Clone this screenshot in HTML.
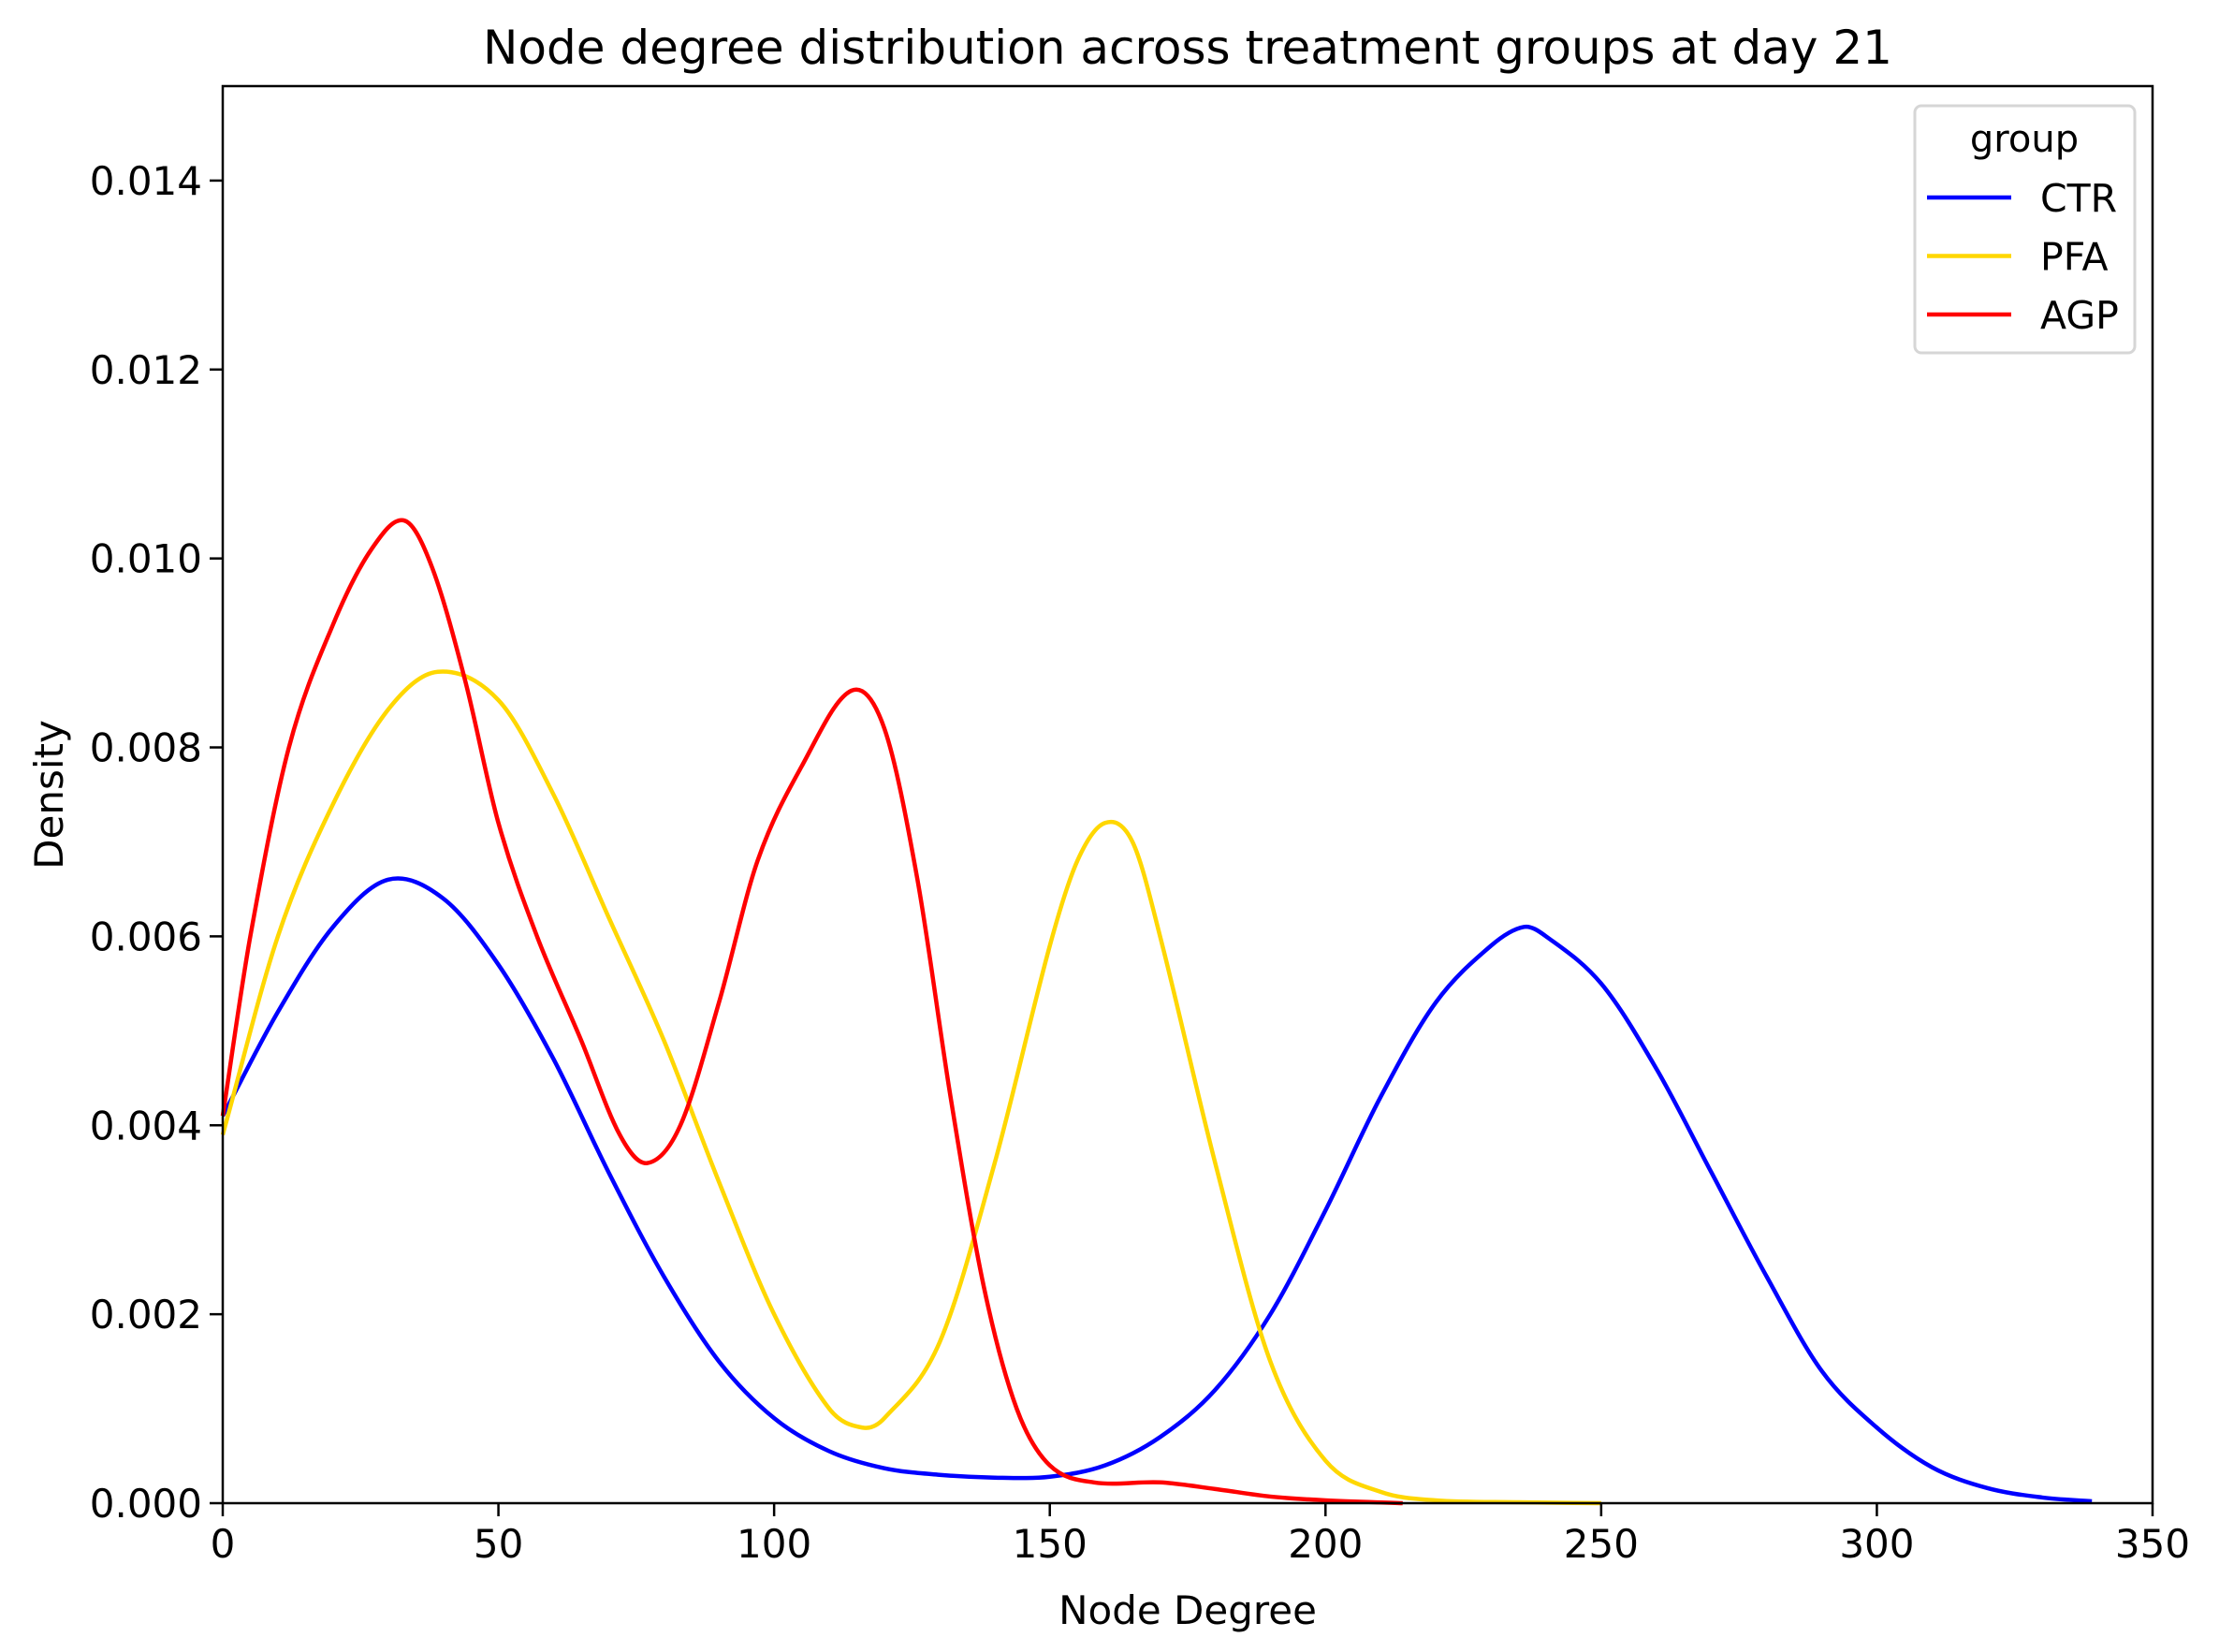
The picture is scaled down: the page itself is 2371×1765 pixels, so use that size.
<!DOCTYPE html>
<html><head><meta charset="utf-8">
<style>
html,body{margin:0;padding:0;background:#fff;}
svg{display:block;}
text{font-family:"DejaVu Sans","Liberation Sans",sans-serif;fill:#000;}
</style></head>
<body>
<svg id="chart" width="2371" height="1765" viewBox="0 0 2371 1765" xmlns="http://www.w3.org/2000/svg"></svg>
<script>
const ctrX=[0,10,20,30,40,50,60,70,80,90,100,110,120,130,140,150,160,170,180,190,200,210,220,230,236,240,250,260,270,280,290,300,310,320,330,339];
const ctrY=[.0041,.0052,.0061,.0066,.0064,.0057,.0047,.0035,.0024,.0015,.0009,.00055,.00037,.0003,.00027,.00028,.0004,.0007,.0012,.0020,.0031,.0043,.0053,.0059,.0061,.0060,.0055,.0046,.0035,.0024,.0014,.0008,.00038,.00016,.00006,.00002];
const pfaX=[0,10,20,30,39,50,60,70,80,90,100,110,116,120,130,140,150,155,160,165,170,180,190,200,210,220,235,250];
const pfaY=[.0039,.0060,.0074,.0084,.0088,.0085,.0075,.0062,.0049,.0034,.0020,.0010,.0008,.0009,.0017,.0036,.0059,.0068,.0072,.0070,.0060,.0036,.0015,.00045,.00012,.00003,.00001,0];
const agpX=[0,5,12,20,27,33,38,44,50,57,65,72,77,83,90,97,105,114,120,126,132,138,144,150,158,170,180,190,200,214];
const agpY=[.0041,.0060,.0080,.0093,.0101,.0104,.0099,.0087,.0072,.0060,.0049,.0039,.0036,.0040,.0053,.0068,.0078,.0086,.0082,.0066,.0043,.0023,.0010,.0004,.00022,.00022,.00015,.00007,.00003,0];
const xTicks=[0,50,100,150,200,250,300,350];
const yTicks=[0,0.002,0.004,0.006,0.008,0.010,0.012,0.014];
const seriesNames=["CTR","PFA","AGP"];
const seriesColors=["#0000ff","#ffd700","#ff0000"];

const L=238,R=2300,T=92,B=1606;
const sx=v=>L+(v/350)*(R-L);
const sy=v=>B-(v/0.015)*(B-T);
const svg=document.getElementById('chart');
const NS="http://www.w3.org/2000/svg";
function mk(tag,attrs,parent){const e=document.createElementNS(NS,tag);for(const k in attrs)e.setAttribute(k,attrs[k]);(parent||svg).appendChild(e);return e;}

function pathFor(xs,ys){
  const n=xs.length;
  const m=xs.map((x,i)=>{
    if(i===0) return (ys[1]-ys[0])/(xs[1]-xs[0]);
    if(i===n-1) return (ys[n-1]-ys[n-2])/(xs[n-1]-xs[n-2]);
    return (ys[i+1]-ys[i-1])/(xs[i+1]-xs[i-1]);
  });
  let d=`M${sx(xs[0])},${sy(ys[0])}`;
  for(let i=0;i<n-1;i++){
    const dx=xs[i+1]-xs[i];
    const c1x=xs[i]+dx/3,c1y=ys[i]+m[i]*dx/3;
    const c2x=xs[i+1]-dx/3,c2y=ys[i+1]-m[i+1]*dx/3;
    d+=` C${sx(c1x)},${sy(c1y)} ${sx(c2x)},${sy(c2y)} ${sx(xs[i+1])},${sy(ys[i+1])}`;
  }
  return d;
}
const data=[[ctrX,ctrY],[pfaX,pfaY],[agpX,agpY]];
data.forEach((s,i)=>{
  const e=mk('path',{d:pathFor(s[0],s[1]),fill:'none',stroke:seriesColors[i],'stroke-width':4.5,'stroke-linejoin':'round'});
  
  
});

const frame=mk('rect',{x:L,y:T,width:R-L,height:B-T,fill:'none',stroke:'#000','stroke-width':2.5});



xTicks.forEach(v=>{
  const x=sx(v);
  const t=mk('line',{x1:x,y1:B,x2:x,y2:B+14,stroke:'#000','stroke-width':2.5});
  
  
  const l=mk('text',{x:x,y:B+58,'font-size':42,'text-anchor':'middle'});
  l.textContent=v;
  
  
});
yTicks.forEach(v=>{
  const y=sy(v);
  const t=mk('line',{x1:L-14,y1:y,x2:L,y2:y,stroke:'#000','stroke-width':2.5});
  
  
  const l=mk('text',{x:L-22,y:y+15,'font-size':42,'text-anchor':'end'});
  l.textContent=v.toFixed(3);
  
  
});

const title=mk('text',{x:(L+R)/2,y:68,'font-size':50,'text-anchor':'middle'});
title.textContent='Node degree distribution across treatment groups at day 21';


const xl=mk('text',{x:(L+R)/2,y:1735,'font-size':42,'text-anchor':'middle'});
xl.textContent='Node Degree';


const yl=mk('text',{x:67,y:(T+B)/2,'font-size':42,'text-anchor':'middle',transform:`rotate(-90 67 ${(T+B)/2})`});
yl.textContent='Density';



const lg=mk('g',{});


mk('rect',{x:2046,y:113,width:235,height:264,rx:7,fill:'#fff','fill-opacity':0.8,stroke:'#d6d6d6','stroke-width':3},lg);
const lt=mk('text',{x:2163,y:162,'font-size':40,'text-anchor':'middle'},lg);
lt.textContent='group';


seriesNames.forEach((n,i)=>{
  const y=211+i*62.5;
  const ln=mk('line',{x1:2059,y1:y,x2:2149,y2:y,stroke:seriesColors[i],'stroke-width':4.5},lg);
  
  
  const tx=mk('text',{x:2180,y:y+15,'font-size':41},lg);
  tx.textContent=n;
  
  
});
</script>
</body></html>
